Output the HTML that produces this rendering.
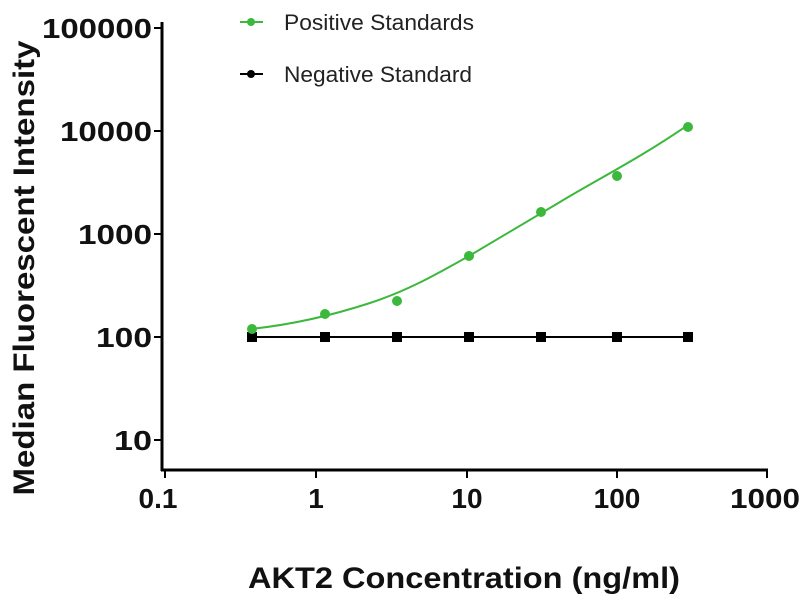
<!DOCTYPE html>
<html><head><style>body{margin:0;background:#fff}svg{display:block}</style></head><body>
<svg width="800" height="600" xmlns="http://www.w3.org/2000/svg" font-family="Liberation Sans, Arial, sans-serif">
<g stroke="#000" stroke-width="3" fill="none">
<line x1="162" y1="22" x2="162" y2="471"/>
<line x1="161" y1="470" x2="768" y2="470"/>
</g>
<g stroke="#000" stroke-width="2">
<line x1="154" y1="28" x2="162" y2="28"/><line x1="154" y1="131" x2="162" y2="131"/>
<line x1="154" y1="234" x2="162" y2="234"/><line x1="154" y1="337" x2="162" y2="337"/>
<line x1="154" y1="440" x2="162" y2="440"/>
<line x1="165" y1="470" x2="165" y2="478"/><line x1="316" y1="470" x2="316" y2="478"/>
<line x1="467" y1="470" x2="467" y2="478"/><line x1="617" y1="470" x2="617" y2="478"/>
<line x1="767" y1="470" x2="767" y2="478"/>
</g>
<g font-size="28" font-weight="bold" text-anchor="end" fill="#111">
<text x="152" y="38" textLength="110" lengthAdjust="spacingAndGlyphs">100000</text>
<text x="152" y="141" textLength="92" lengthAdjust="spacingAndGlyphs">10000</text>
<text x="152" y="244" textLength="74" lengthAdjust="spacingAndGlyphs">1000</text>
<text x="152" y="347" textLength="56" lengthAdjust="spacingAndGlyphs">100</text>
<text x="152" y="450" textLength="38" lengthAdjust="spacingAndGlyphs">10</text>
</g>
<g font-size="28" font-weight="bold" text-anchor="middle" fill="#111">
<text x="158" y="508">0.1</text><text x="316" y="508">1</text><text x="467" y="508">10</text>
<text x="617" y="508">100</text><text x="765" y="508" textLength="70" lengthAdjust="spacingAndGlyphs">1000</text>
</g>
<text x="464" y="588" font-size="30" font-weight="bold" text-anchor="middle" fill="#111" textLength="432" lengthAdjust="spacingAndGlyphs">AKT2 Concentration (ng/ml)</text>
<text transform="translate(34,268) rotate(-90)" font-size="30" font-weight="bold" text-anchor="middle" fill="#111" textLength="455" lengthAdjust="spacingAndGlyphs">Median Fluorescent Intensity</text>
<line x1="252" y1="337" x2="688" y2="337" stroke="#000" stroke-width="2"/>
<g fill="#000">
<rect x="247" y="332" width="10" height="10"/><rect x="320" y="332" width="10" height="10"/>
<rect x="392" y="332" width="10" height="10"/><rect x="464" y="332" width="10" height="10"/>
<rect x="536" y="332" width="10" height="10"/><rect x="612" y="332" width="10" height="10"/>
<rect x="683" y="332" width="10" height="10"/>
</g>
<path d="M250,329 C290,325 330,316 370,303 C410,290 440,272 469,256 C510,232 540,214 560,202 C600,178 640,158 688,125" stroke="#3cb83c" stroke-width="2" fill="none"/>
<g fill="#3cb83c">
<circle cx="252" cy="329" r="5"/><circle cx="325" cy="314" r="5"/><circle cx="397" cy="301" r="5"/>
<circle cx="469" cy="256" r="5"/><circle cx="541" cy="212" r="5"/><circle cx="617" cy="176" r="5"/>
<circle cx="688" cy="127" r="5"/>
</g>
<line x1="240" y1="22" x2="263" y2="22" stroke="#3cb83c" stroke-width="2"/><circle cx="251" cy="22" r="4" fill="#3cb83c"/>
<text x="284" y="30" font-size="22" fill="#222" textLength="190" lengthAdjust="spacingAndGlyphs">Positive Standards</text>
<line x1="240" y1="74" x2="263" y2="74" stroke="#000" stroke-width="2"/><circle cx="251" cy="74" r="4" fill="#000"/>
<text x="284" y="82" font-size="22" fill="#222" textLength="188" lengthAdjust="spacingAndGlyphs">Negative Standard</text>
</svg>
</body></html>
